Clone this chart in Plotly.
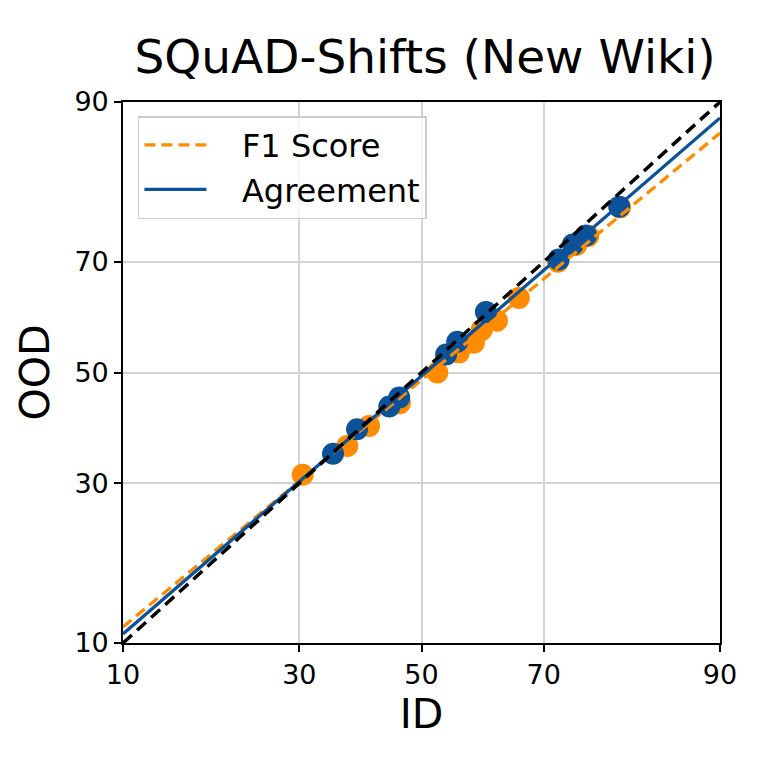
from statistics import NormalDist
import numpy as np
import plotly.graph_objects as go

# values in percent
f1_id = [30.5, 37.5, 41.1, 46.3, 52.7, 56.4, 58.9, 60.2, 62.7, 66.2, 72.1, 74.7, 76.3, 80.3]
f1_ood = [31.4, 36.4, 40.0, 44.2, 50.0, 53.8, 55.6, 58.0, 59.7, 63.8, 70.0, 72.7, 74.1, 78.3]

agr_id = [35.2, 39.1, 44.5, 46.2, 54.2, 56.1, 60.9, 72.2, 74.2, 76.0, 80.2]
agr_ood = [35.0, 39.4, 43.6, 45.3, 53.4, 55.8, 61.3, 70.4, 72.8, 74.2, 78.4]

# linear fits in probit space (slope, intercept)
f1_fit = [0.913, -0.0355]
agr_fit = [0.954, -0.0164]

tick_vals = [10, 30, 50, 70, 90]

nd = NormalDist()


def probit(v):
    return np.array([nd.inv_cdf(p / 100.0) for p in v])


lo, hi = probit([10])[0], probit([90])[0]
xs_line = np.linspace(lo, hi, 50)

orange = "#FF8C00"
blue = "#0C5299"
pad = "\u00a0\u00a0\u00a0"

fig = go.Figure()

fig.add_trace(go.Scatter(
    x=probit(f1_id), y=probit(f1_ood),
    mode="markers",
    marker=dict(color=orange, size=22),
    showlegend=False,
))
fig.add_trace(go.Scatter(
    x=probit(agr_id), y=probit(agr_ood),
    mode="markers",
    marker=dict(color=blue, size=22),
    showlegend=False,
))

fig.add_trace(go.Scatter(
    x=xs_line, y=f1_fit[0] * xs_line + f1_fit[1],
    mode="lines",
    name=pad + "F1 Score",
    line=dict(color=orange, width=3.3, dash="11px,6px"),
))
fig.add_trace(go.Scatter(
    x=xs_line, y=agr_fit[0] * xs_line + agr_fit[1],
    mode="lines",
    name=pad + "Agreement",
    line=dict(color=blue, width=3.3),
))
fig.add_trace(go.Scatter(
    x=xs_line, y=xs_line,
    mode="lines",
    line=dict(color="black", width=3.5, dash="12px,7px"),
    showlegend=False,
))

axis_common = dict(
    range=[lo, hi],
    tickvals=probit(tick_vals),
    ticktext=[str(t) for t in tick_vals],
    showgrid=True,
    gridcolor="#d3d3d3",
    gridwidth=1.5,
    zeroline=False,
    showline=True,
    linecolor="black",
    linewidth=1.6,
    mirror=True,
    ticks="outside",
    ticklen=7,
    tickwidth=1.6,
    tickcolor="black",
    tickfont=dict(size=27, color="black"),
)

fig.update_xaxes(title=dict(text="ID", font=dict(size=41, color="black"), standoff=6), **axis_common)
fig.update_yaxes(title=dict(text="OOD", font=dict(size=41, color="black"), standoff=12), **axis_common)

fig.update_layout(
    width=761,
    height=761,
    margin=dict(l=115, r=49, t=94, b=126),
    paper_bgcolor="white",
    plot_bgcolor="white",
    font=dict(family="DejaVu Sans", color="black"),
    title=dict(
        text="SQuAD-Shifts (New Wiki)",
        xref="container", yref="container",
        x=0.548, xanchor="center",
        y=0.936, yanchor="middle",
        font=dict(size=47, color="black"),
    ),
    legend=dict(
        x=0.025, y=0.974,
        xanchor="left", yanchor="top",
        bgcolor="rgba(255,255,255,0.8)",
        bordercolor="#cccccc",
        borderwidth=1.5,
        font=dict(size=32, color="black"),
        itemwidth=62,
        tracegroupgap=2,
    ),
)

fig.write_html("out.html")
